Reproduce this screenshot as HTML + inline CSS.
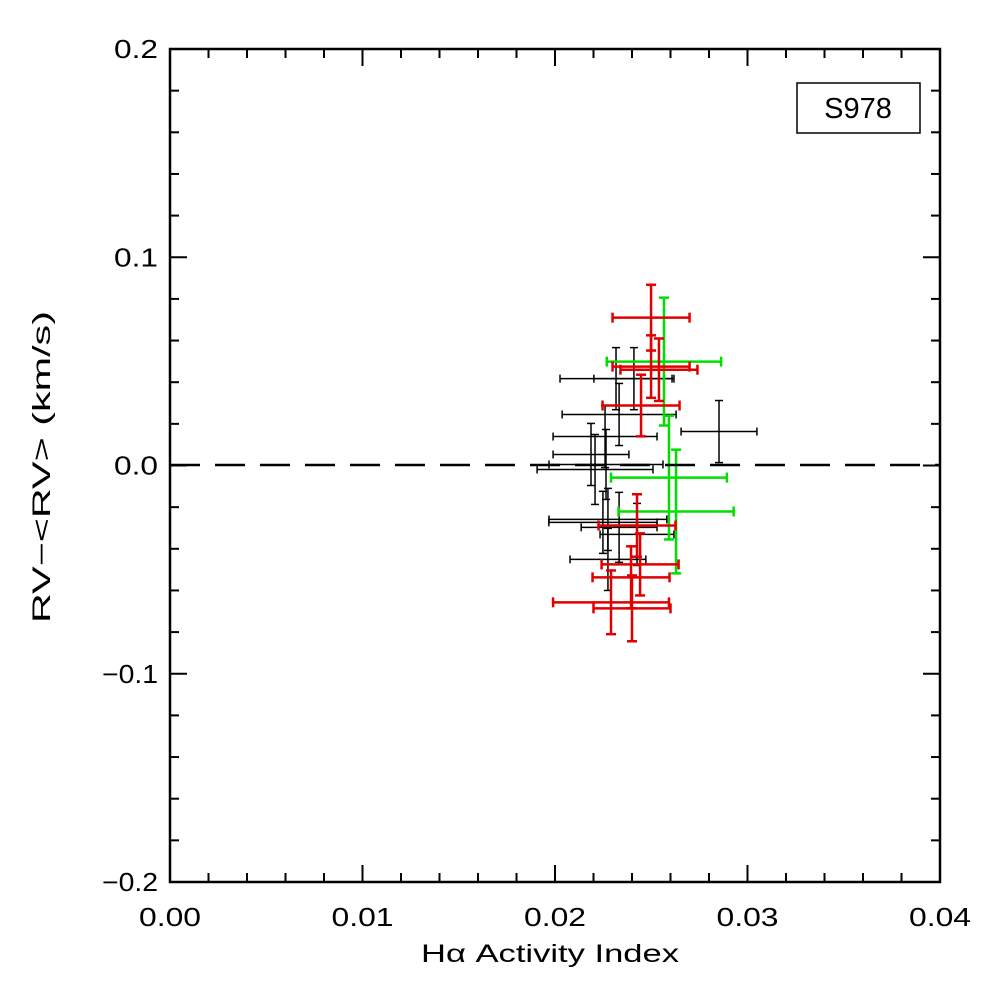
<!DOCTYPE html>
<html><head><meta charset="utf-8"><style>
html,body{margin:0;padding:0;background:#fff;}
svg{display:block;font-family:"Liberation Sans",sans-serif;}
</style></head><body>
<svg id="chart" width="988" height="988" viewBox="0 0 988 988">
<rect x="0" y="0" width="988" height="988" fill="#fff"/>
<g id="ticks"></g>
<g id="marks"></g>
<line x1="170" y1="465" x2="940" y2="465" stroke="#000" stroke-width="2.5" stroke-dasharray="30,15"/>
<rect x="170" y="49" width="770" height="833" fill="none" stroke="#000" stroke-width="2.5"/>
<g>
<rect x="797" y="83" width="123" height="50" fill="#fff" stroke="#000" stroke-width="1.5"/>
<text x="858" y="118" font-size="29" text-anchor="middle">S978</text>
</g>
<text x="550" y="962" font-size="25" text-anchor="middle" textLength="258" lengthAdjust="spacingAndGlyphs">Hα Activity Index</text>
<text transform="translate(50,467) rotate(-90)" font-size="25" text-anchor="middle" textLength="312" lengthAdjust="spacingAndGlyphs">RV−&lt;RV&gt; (km/s)</text>
</svg>
<script>
const xTicks=[0,0.01,0.02,0.03,0.04];
const xTickLabels=["0.00","0.01","0.02","0.03","0.04"];
const yTicks=[-0.2,-0.1,0,0.1,0.2];
const yTickLabels=["−0.2","−0.1","0.0","0.1","0.2"];
const blackX=[0.02317,0.02410,0.02333,0.02260,0.02187,0.02208,0.02265,0.02852,0.02275,0.02249,0.02333,0.02426,0.02275];
const blackXErr=[0.00291,0.00208,0.00296,0.00270,0.00197,0.00301,0.00296,0.00197,0.00306,0.00281,0.00197,0.00192,0.00197];
const blackY=[0.0417,0.0417,0.0245,0.0139,0.0053,-0.0019,0.0005,0.0163,-0.0259,-0.0273,-0.0297,-0.0331,-0.0451];
const blackYErr=[0.0149,0.0149,0.0149,0.0149,0.0149,0.0168,0.0168,0.0149,0.0149,0.0149,0.0168,0.0149,0.0149];
const redX=[0.02499,0.02540,0.02499,0.02447,0.02426,0.02442,0.02395,0.02291,0.02400];
const redXErr=[0.0020,0.0020,0.0020,0.0020,0.0020,0.0020,0.0020,0.00301,0.0020];
const redY=[0.0710,0.0460,0.0475,0.0288,-0.0288,-0.0475,-0.0537,-0.0657,-0.0686];
const redYErr=[0.0158,0.0150,0.0150,0.0148,0.0150,0.0149,0.0149,0.0153,0.0158];
const greenX=[0.02566,0.02592,0.02629];
const greenXErr=[0.00297,0.00301,0.00299];
const greenY=[0.0499,-0.0058,-0.0221];
const greenYErr=[0.0307,0.0297,0.0297];

const NS="http://www.w3.org/2000/svg";
const X0=170,X1=940,Y0=882,Y1=49;
function sx(v){return X0+(v-0)/(0.04)*(X1-X0);}
function sy(v){return Y0-(v+0.2)/0.4*(Y0-Y1);}
function sxLen(v){return v/0.04*(X1-X0);}
function syLen(v){return v/0.4*(Y0-Y1);}
function line(g,x1,y1,x2,y2,c,w){const l=document.createElementNS(NS,'line');l.setAttribute('x1',x1);l.setAttribute('y1',y1);l.setAttribute('x2',x2);l.setAttribute('y2',y2);l.setAttribute('stroke',c);l.setAttribute('stroke-width',w);g.appendChild(l);return l;}
const tg=document.getElementById('ticks');
for(let i=0;i<=20;i++){
  const v=i*0.002;const x=sx(v);const maj=(i%5===0);const L=maj?17:9;
  line(tg,x,Y0,x,Y0-L,'#000',2);line(tg,x,Y1,x,Y1+L,'#000',2);
}
for(let i=0;i<=20;i++){
  const v=-0.2+i*0.02;const y=sy(v);const maj=(i%5===0);const L=maj?17:9;
  line(tg,X0,y,X0+L,y,'#000',2);line(tg,X1,y,X1-L,y,'#000',2);
}
xTicks.forEach((v,i)=>{
  const t=document.createElementNS(NS,'text');
  t.setAttribute('x',sx(v));t.setAttribute('y',926);t.setAttribute('font-size','26');t.setAttribute('text-anchor','middle');
  t.setAttribute('textLength','62');t.setAttribute('lengthAdjust','spacingAndGlyphs');
  
  
  t.textContent=xTickLabels[i];tg.appendChild(t);
});
yTicks.forEach((v,i)=>{
  const t=document.createElementNS(NS,'text');
  const lbl=yTickLabels[i];
  const w=lbl.length===4?56:44;
  t.setAttribute('x',158-w);t.setAttribute('y',sy(v)+9);t.setAttribute('font-size','26');t.setAttribute('text-anchor','start');
  t.setAttribute('textLength',w);t.setAttribute('lengthAdjust','spacingAndGlyphs');
  
  
  t.textContent=lbl;tg.appendChild(t);
});
const mg=document.getElementById('marks');
function series(xs,xe,ys,ye,color,w,cap,name){
  xs.forEach((xv,i)=>{
    const g=document.createElementNS(NS,'g');
    
    
    const cx=sx(xv),cy=sy(ys[i]),dx=sxLen(xe[i]),dy=syLen(ye[i]);
    line(g,cx-dx,cy,cx+dx,cy,color,w);
    line(g,cx,cy-dy,cx,cy+dy,color,w);
    line(g,cx-dx,cy-cap,cx-dx,cy+cap,color,w);
    line(g,cx+dx,cy-cap,cx+dx,cy+cap,color,w);
    line(g,cx-cap,cy-dy,cx+cap,cy-dy,color,w);
    line(g,cx-cap,cy+dy,cx+cap,cy+dy,color,w);
    mg.appendChild(g);
  });
}
series(blackX,blackXErr,blackY,blackYErr,'#000',1.5,4,'black-point');
series(greenX,greenXErr,greenY,greenYErr,'#00e000',2.5,5,'green-point');
series(redX,redXErr,redY,redYErr,'#e00000',2.5,5,'red-point');
</script>
</body></html>
